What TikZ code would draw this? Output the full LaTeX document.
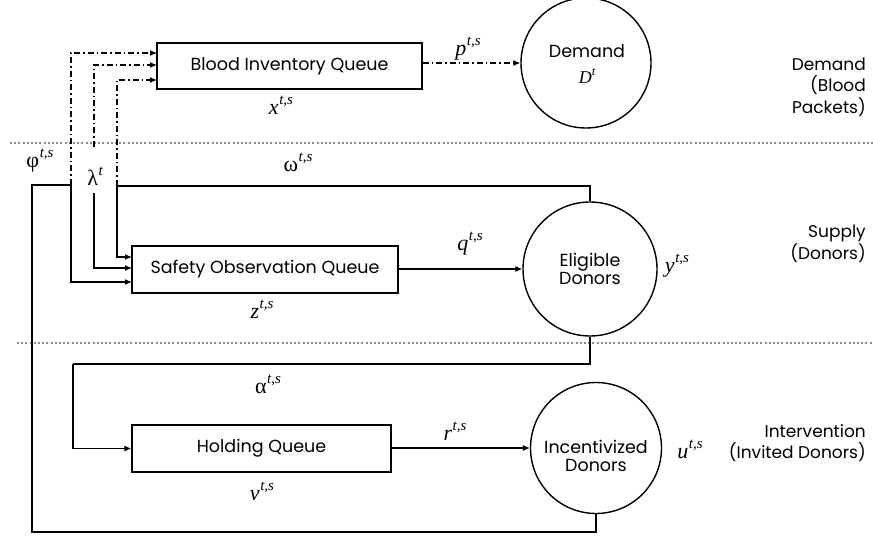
\documentclass[tikz,border=0pt]{standalone}
\usepackage{fontspec}
\setmainfont{Poppins}
\newfontfamily\grk{Liberation Serif}
\usetikzlibrary{arrows.meta}
\newcommand\symlab[3][\itshape]{{\grk#1#2}\kern0.6pt\raisebox{0.45em}{\fontsize{15}{16}\selectfont\grk\itshape #3}}
\tikzset{
  x=1pt, y=-1pt,
  txt/.style={font=\fontsize{17.5}{21}\selectfont},
  qbox/.style={draw, line width=1.4pt, inner sep=0pt, txt},
  circ/.style={draw, circle, line width=1.4pt, inner sep=0pt, txt, align=center},
  conn/.style={line width=1.1pt},
  dd/.style={line width=1.1pt, dash pattern=on 6pt off 3pt on 1.5pt off 3pt},
  tip/.style={-{Latex[length=7pt,width=6pt]}},
  sep/.style={draw=black!45, line width=2pt, dash pattern=on 2pt off 2.2pt},
  lbl/.style={font=\fontsize{22}{24}\selectfont, inner sep=0pt},
  side/.style={anchor=east, align=right, inner sep=0pt, font=\fontsize{17}{21.5}\selectfont},
}
\begin{document}
\begin{tikzpicture}
\useasboundingbox (0,0) rectangle (873,537);

% separators
\draw[sep] (10,143) -- (873,143);
\draw[sep] (17,343) -- (873,343);

% queues
\node[qbox, minimum width=265pt, minimum height=46pt] (biq) at (289.5,66) {Blood Inventory Queue};
\node[qbox, minimum width=266pt, minimum height=47pt] (soq) at (265,269.5) {Safety Observation Queue};
\node[qbox, minimum width=259pt, minimum height=47pt] (hq) at (261.5,448.5) {Holding Queue};

% pools
\node[circ, minimum size=130pt] (dem) at (586,63) {};
\node[txt, inner sep=0pt] (demt) at (587,51) {Demand};
\node[inner sep=0pt, font=\fontsize{18}{20}\selectfont] (demd) at (587,76) {{\grk\itshape D}\raisebox{0.45em}{\fontsize{12.5}{13}\selectfont\grk\itshape t}};
\node[circ, minimum size=134pt] (eli) at (590,269) {Eligible\\[-3pt]Donors};
\node[circ, minimum size=131pt] (inc) at (596,448) {};
\node[txt, align=center, inner sep=0pt] (inct) at (596,456) {Incentivized\\[-3pt]Donors};

% side labels
\node[side] (s1lab) at (866,87) {Demand\\(Blood\\Packets)};
\node[side] (s2lab) at (866,244) {Supply\\(Donors)};
\node[side] (s3lab) at (866,443) {Intervention\\(Invited Donors)};

% entry coordinates
\coordinate (b1) at (157,53);
\coordinate (b2) at (157,65);
\coordinate (b3) at (157,80);
\coordinate (s1) at (132,257);
\coordinate (s2) at (132,268);
\coordinate (s3) at (132,282);
\coordinate (phiJ) at (71,185);
\coordinate (omJ) at (117,186);
\coordinate (lamTop) at (94,147);
\coordinate (lamBot) at (94,193);
\coordinate (cL) at (32,532);
\coordinate (aL) at (73,364);

% phi
\draw[conn] (inc.south) |- (cL) |- (phiJ);
\draw[conn, tip] (phiJ) |- (s3);
\draw[dd, tip] (phiJ) |- (b1);
% lambda
\draw[conn, tip] (lamBot) |- (s2);
\draw[dd, tip] (lamTop) |- (b2);
% omega
\draw[conn] (eli.north) |- (omJ);
\draw[conn, tip] (omJ) |- (s1);
\draw[dd, tip] (omJ) |- (b3);
% p, q, r
\draw[dd, tip] (biq.east |- dem.west) -- (dem.west);
\draw[conn, tip] (soq.east |- eli.west) -- (eli.west);
\draw[conn, tip] (hq.east |- inc.west) -- (inc.west);
% alpha
\draw[conn] (eli.south) |- (aL);
\draw[conn, tip] (aL) |- (hq.west);

% labels
\node[lbl] (lx) at (281,105) {\symlab{x}{t,s}};
\node[lbl] (lp) at (468,49) {\symlab{p}{t,s}};
\node[lbl] (lphi) at (40,161) {\symlab[\upshape]{φ}{t,s}};
\node[lbl] (llam) at (95,176) {\symlab[\upshape]{λ}{t}};
\node[lbl] (lom) at (298,162) {\symlab[\upshape]{ω}{t,s}};
\node[lbl] (lq) at (470,244) {\symlab{q}{t,s}};
\node[lbl] (ly) at (677,266) {\symlab{y}{t,s}};
\node[lbl] (lz) at (262,309) {\symlab{z}{t,s}};
\node[lbl] (la) at (268,384) {\symlab[\upshape]{α}{t,s}};
\node[lbl] (lv) at (262,491) {\symlab{v}{t,s}};
\node[lbl] (lr) at (455,431) {\symlab{r}{t,s}};
\node[lbl] (lu) at (690,449) {\symlab{u}{t,s}};
\end{tikzpicture}
\end{document}
